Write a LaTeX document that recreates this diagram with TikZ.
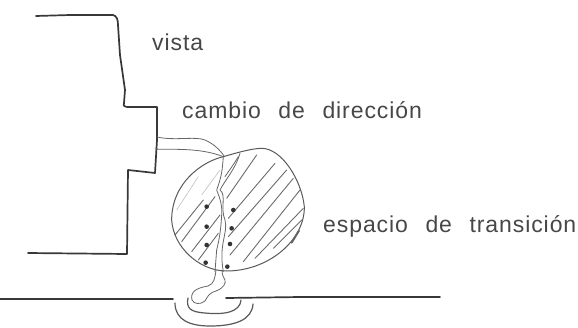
\documentclass[tikz,border=0pt]{standalone}
\usepackage{fontspec}
\setmainfont{Liberation Sans}
\newfontfamily\lblfont[LetterSpace=4,WordSpace=2.4]{Liberation Sans}
\tikzset{
 wall/.style={line width=1.7pt,draw=black!78,line join=round,line cap=round},
 outline/.style={line width=1pt,draw=black!65,line cap=round,line join=round},
 strand/.style={line width=0.8pt,draw=black!60,line cap=round,line join=round},
 hatch/.style={line width=0.9pt,draw=black!58,line cap=round},
 faint/.style={line width=0.6pt,draw=black!25,line cap=round},
 lbl/.style={anchor=base west,font=\lblfont\fontsize{23}{26}\selectfont,text=black!72,inner sep=0pt},
 dot/.style={circle,fill=black!80,inner sep=0pt,minimum size=4.6pt}
}
\begin{document}
\begin{tikzpicture}[x=1pt,y=-1pt]
\useasboundingbox (0,0) rectangle (578,327);
\node[lbl] (t1) at (152,50) {vista};
\node[lbl] (t2) at (182,118) {cambio de dirección};
\node[lbl] (t3) at (323,232) {espacio de transición};
% building
\draw[wall] (36,16) -- (70,15) -- (113,15) .. controls (117,16) and (118,20) .. (118,25) -- (120,55) -- (125,90) -- (124,103) .. controls (123,106) and (125,107) .. (127,107) -- (157,107) -- (157,140) -- (155,173) -- (128,170) -- (127,254) -- (28,253);
\begin{scope}[shift={(165,140)},x=0.3333pt,y=-0.3333pt]
% hatching
\foreach \a/\b/\c/\d in {30/285/115/180,50/305/150/170,80/335/165/225,100/360/160/280,185/175/275/45,190/235/330/70,190/290/365/90,195/345/385/115,235/365/405/150,270/355/415/205,325/325/410/240}{
 \draw[hatch] (\a,\b) -- (\c,\d);
}
\draw[faint] (35,210) -- (100,110);
\draw[faint] (110,165) -- (165,90);
% circle
\draw[outline] (175,50) .. controls (110,65) and (20,130) .. (20,240) .. controls (25,320) and (100,390) .. (180,393) .. controls (310,395) and (420,300) .. (418,200) .. controls (410,120) and (350,25) .. (290,25) .. controls (260,25) and (210,40) .. (175,50);
\draw[line width=2pt,draw=black!60,line cap=round] (380,308) -- (402,272);
% routes inside the circle
\draw[strand] (175,50) .. controls (172,90) and (170,110) .. (155,150) .. controls (165,175) and (172,195) .. (170,225) .. controls (168,260) and (165,290) .. (155,330) -- (150,395);
\draw[strand] (225,40) .. controls (210,90) and (180,120) .. (165,150) .. controls (185,165) and (165,205) .. (180,240) .. controls (190,280) and (160,310) .. (175,395);
\draw[strand] (220,50) .. controls (205,75) and (190,95) .. (180,110);
% dots
\foreach \n/\x/\y in {d1/125/200,d2/125/260,d3/125/315,d4/122/368,d5/205/210,d6/200/265,d7/195/312,d8/187/380}{
 \node[dot] (\n) at (\x,\y) {};
}
\end{scope}
% lines arriving from the wall
\draw[strand] (157,137) .. controls (175,141) and (195,136) .. (205,140) .. controls (214,144) and (220,150) .. (224,156);
\draw[strand] (155,149) .. controls (170,150) and (200,147) .. (224,157);
% foot of the routes
\draw[strand] (216,270) .. controls (215,278) and (214,284) .. (208,286) .. controls (196,288) and (190,292) .. (192,300) .. controls (194,304) and (200,305) .. (205,301) .. controls (208,296) and (209,293) .. (216,291) .. controls (224,288) and (226,283) .. (225,280) .. controls (222,275) and (222,272) .. (222,270);
% road
\draw[wall] (0,299) -- (173,299);
\draw[wall] (226,298) -- (300,297) -- (440,297);
\draw[outline,line width=1.2pt] (188,298) .. controls (186,308) and (190,312) .. (205,313) .. controls (225,315) and (240,312) .. (241,300);
\draw[outline,line width=1.2pt] (175,303) .. controls (175,320) and (190,326) .. (210,326) .. controls (235,326) and (252,320) .. (253,304);
\end{tikzpicture}
\end{document}
